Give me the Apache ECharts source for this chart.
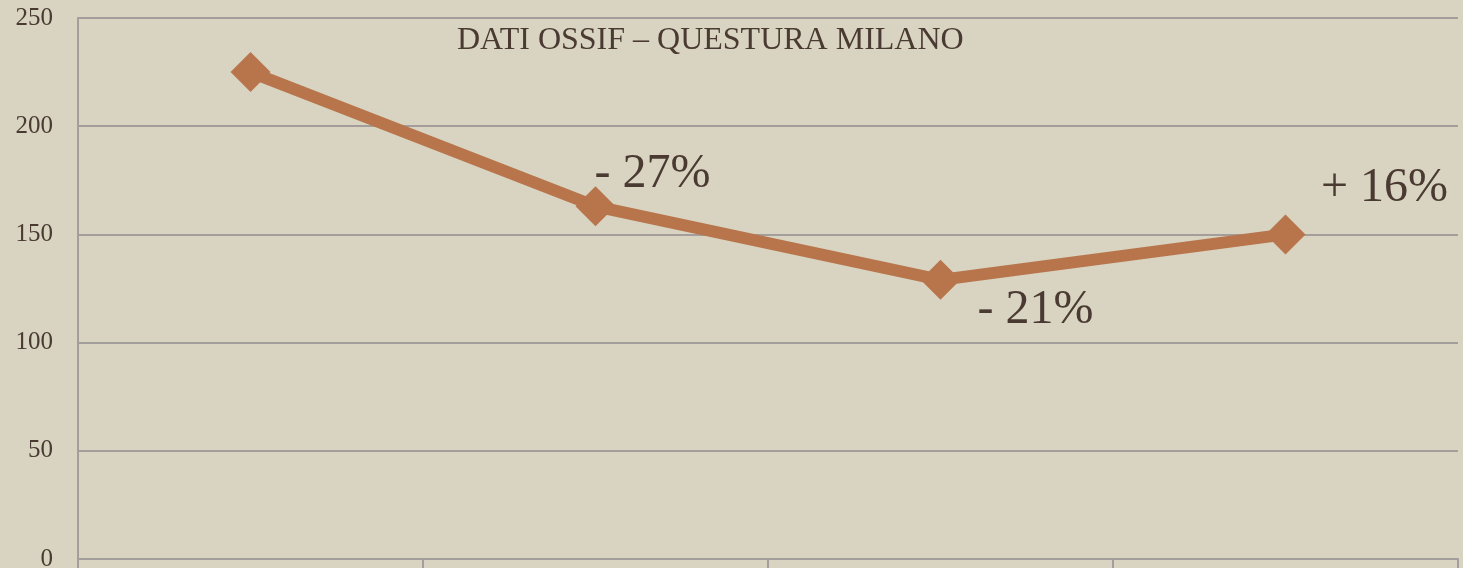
<!DOCTYPE html>
<html>
<head>
<meta charset="utf-8">
<script src="https://cdn.jsdelivr.net/npm/echarts@6/dist/echarts.min.js"></script>
<style>
  html, body { margin: 0; padding: 0; background: #d8d4c1; }
  #chart { width: 1463px; height: 568px; }
</style>
</head>
<body>
<div id="chart"></div>
<script>
// categories (x labels fall below the visible area)
const categories = ['2009', '2010', '2011', '2012'];
// series values
const values = [225, 163, 129, 150];
// percent change labels, first point has none
const changeLabels = ['', '- 27%', '- 21%', '+ 16%'];
const yTicks = [0, 50, 100, 150, 200, 250];

const chart = echarts.init(document.getElementById('chart'));

const labelPos = [
  null,
  { offset: [57, 17], position: 'top' },
  { offset: [95, -18], position: 'bottom' },
  { offset: [99, 3], position: 'top' },
];

const option = {
  backgroundColor: '#d8d4c1',
  animation: false,
  title: {
    text: 'DATI OSSIF – QUESTURA MILANO',
    left: 452,
    top: 20,
    textStyle: {
      fontFamily: 'Liberation Serif',
      fontWeight: 'normal',
      fontSize: 32,
      color: '#4a3a32',
    },
  },
  grid: {
    left: 78,
    right: 5,
    top: 18,
    bottom: 9,
    outerBoundsMode: 'none',
  },
  xAxis: {
    type: 'category',
    data: categories,
    axisLine: { lineStyle: { color: '#a39d9b', width: 2 } },
    axisTick: { show: true, length: 10, lineStyle: { color: '#a39d9b', width: 2 } },
    axisLabel: { show: false },
  },
  yAxis: {
    type: 'value',
    min: yTicks[0],
    max: yTicks[yTicks.length - 1],
    interval: 50,
    axisLine: { show: true, lineStyle: { color: '#a39d9b', width: 2 } },
    axisTick: { show: false },
    axisLabel: {
      margin: 25,
      fontFamily: 'Liberation Serif',
      fontSize: 25,
      color: '#4a3a32',
    },
    splitLine: { lineStyle: { color: '#a39d9b', width: 2 } },
  },
  series: [
    {
      type: 'line',
      data: values.map((v, i) => {
        const item = { value: v };
        if (labelPos[i]) {
          item.label = {
            show: true,
            position: labelPos[i].position,
            offset: labelPos[i].offset,
            formatter: changeLabels[i],
          };
        }
        return item;
      }),
      symbol: 'diamond',
      symbolSize: [40, 40],
      lineStyle: { color: '#b8754c', width: 12 },
      itemStyle: { color: '#b8754c' },
      label: {
        fontFamily: 'Liberation Serif',
        fontSize: 48,
        color: '#4a3a32',
      },
    },
  ],
};

chart.setOption(option);
</script>
</body>
</html>
